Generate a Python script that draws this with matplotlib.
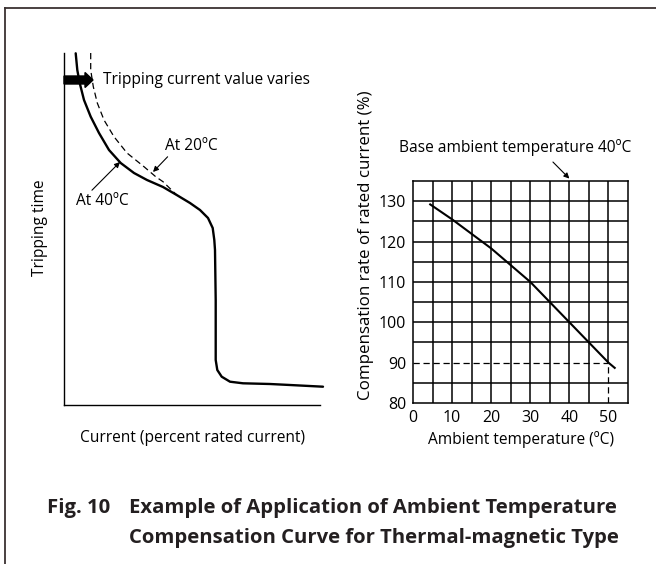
import matplotlib.pyplot as plt
from matplotlib.patches import FancyArrow
from matplotlib.lines import Line2D

plt.rcParams["font.family"] = ["Open Sans", "DejaVu Sans"]

# Tripping characteristic (arbitrary units: current vs. time)
solid_current = [11.7, 13.3, 15.7, 20, 26.7, 35, 45, 56.7, 70, 83, 99, 112.7,
                 126, 136, 144, 148.7, 150.3, 151, 151.7, 151.7, 153.3, 157.7,
                 166, 179, 206, 226, 259]
solid_time = [351.7, 335, 322, 305, 288.3, 272, 255, 242, 232, 225, 218, 210,
              202, 195, 187, 177, 165, 155, 105, 45, 35, 28.3,
              23.3, 21.7, 21, 20, 18.3]
dashed_current = [26.7, 26.7, 29.3, 33.3, 40, 50, 63, 80, 91.7, 99, 112.7]
dashed_time = [352, 335, 318.3, 302, 285, 268.3, 252, 238.3, 228.3, 223.3, 210]

# Ambient temperature compensation curve
temp_c = [4.4, 10, 20, 30, 40, 45, 50, 51.6]
comp_rate = [129.2, 125.5, 118.3, 110, 100, 95, 90, 88.7]
x_ticks = [0, 10, 20, 30, 40, 50]
y_ticks = [80, 90, 100, 110, 120, 130]

W, H = 656, 564
fig = plt.figure(figsize=(W / 100, H / 100), dpi=100)

# open frame: left and top edges only
frame_col = "#3a3232"
fig.add_artist(Line2D([5 / W, 5 / W], [1 - 8 / H, 0], color=frame_col, lw=1.3))
fig.add_artist(Line2D([5 / W, 1], [1 - 8 / H, 1 - 8 / H], color=frame_col, lw=1.3))

fs = 11.2

# ---- left panel ----
ax1 = fig.add_axes([64 / W, (H - 405) / H, 256 / W, 352 / H])
ax1.set_xlim(0, 256)
ax1.set_ylim(0, 352)
ax1.set_xticks([])
ax1.set_yticks([])
for s in ["top", "right"]:
    ax1.spines[s].set_visible(False)
for s in ["left", "bottom"]:
    ax1.spines[s].set_linewidth(1.0)

ax1.plot(solid_current, solid_time, color="black", lw=1.7, clip_on=False,
         solid_capstyle="round", solid_joinstyle="round")
ax1.plot(dashed_current, dashed_time, color="black", lw=0.9, ls=(0, (5, 3)),
         clip_on=False)

ax1.add_patch(FancyArrow(0, 325, 29, 0, width=8, head_width=15, head_length=8,
                         length_includes_head=True, color="black", clip_on=False))
ax1.text(39, 325, "Tripping current value varies", fontsize=fs, va="center")

ax1.annotate("At 20ºC", xy=(89, 233), xytext=(101, 259), fontsize=fs,
             va="center", ha="left",
             arrowprops=dict(arrowstyle="-|>", color="black", lw=0.8,
                             mutation_scale=8, shrinkA=0, shrinkB=0,
                             relpos=(0.1, 0)))
ax1.annotate("At 40ºC", xy=(56, 243), xytext=(12, 204), fontsize=fs,
             va="center", ha="left",
             arrowprops=dict(arrowstyle="-|>", color="black", lw=0.8,
                             mutation_scale=8, shrinkA=0, shrinkB=0,
                             relpos=(0.25, 1)))

fig.text(40 / W, 1 - 228 / H, "Tripping time", rotation=90, fontsize=fs,
         ha="center", va="center")
fig.text(192 / W, 1 - 438 / H, "Current (percent rated current)", fontsize=fs,
         ha="center", va="center")

# ---- right panel ----
ax2 = fig.add_axes([413 / W, (H - 403) / H, 215 / W, 222 / H])
ax2.set_xlim(0, 55)
ax2.set_ylim(80, 135)
ax2.set_xticks(x_ticks)
ax2.set_yticks(y_ticks)
ax2.tick_params(length=0, labelsize=11.5, pad=5)
for s in ax2.spines.values():
    s.set_linewidth(1.1)

grid_kw = dict(color="black", lw=1.1, zorder=1)
for y in range(85, 135, 5):
    if y != 90:
        ax2.axhline(y, **grid_kw)
for x in range(5, 55, 5):
    if x == 50:
        ax2.vlines(50, 90, 135, **grid_kw)
    else:
        ax2.axvline(x, **grid_kw)
ax2.hlines(90, 0, 50, color="black", lw=0.9, ls=(0, (5, 3)), zorder=1)
ax2.vlines(50, 80, 90, color="black", lw=0.9, ls=(0, (5, 3)), zorder=1)

ax2.plot(temp_c, comp_rate, color="black", lw=1.5, zorder=3, clip_on=False)

ax2.annotate("Base ambient temperature 40ºC", xy=(40, 136), xytext=(26.1, 143.4),
             fontsize=fs, ha="center", va="center", annotation_clip=False)
ax2.annotate("", xy=(40, 135.6), xytext=(35.8, 139.7), annotation_clip=False,
             arrowprops=dict(arrowstyle="-|>", color="black", lw=0.8,
                             mutation_scale=8, shrinkA=0, shrinkB=0))

fig.text(366 / W, 1 - 245 / H, "Compensation rate of rated current (%)",
         rotation=90, fontsize=12.2, ha="center", va="center")
fig.text(521 / W, 1 - 440 / H, "Ambient temperature (ºC)", fontsize=fs,
         ha="center", va="center")

# ---- caption ----
cap_kw = dict(fontsize=14.6, fontweight="bold", va="center", color="#231f20")
fig.text(47 / W, 1 - 508 / H, "Fig. 10", **cap_kw)
fig.text(129 / W, 1 - 508 / H, "Example of Application of Ambient Temperature", **cap_kw)
fig.text(129 / W, 1 - 538 / H, "Compensation Curve for Thermal-magnetic Type", **cap_kw)

fig.savefig("out.png", dpi=100)
